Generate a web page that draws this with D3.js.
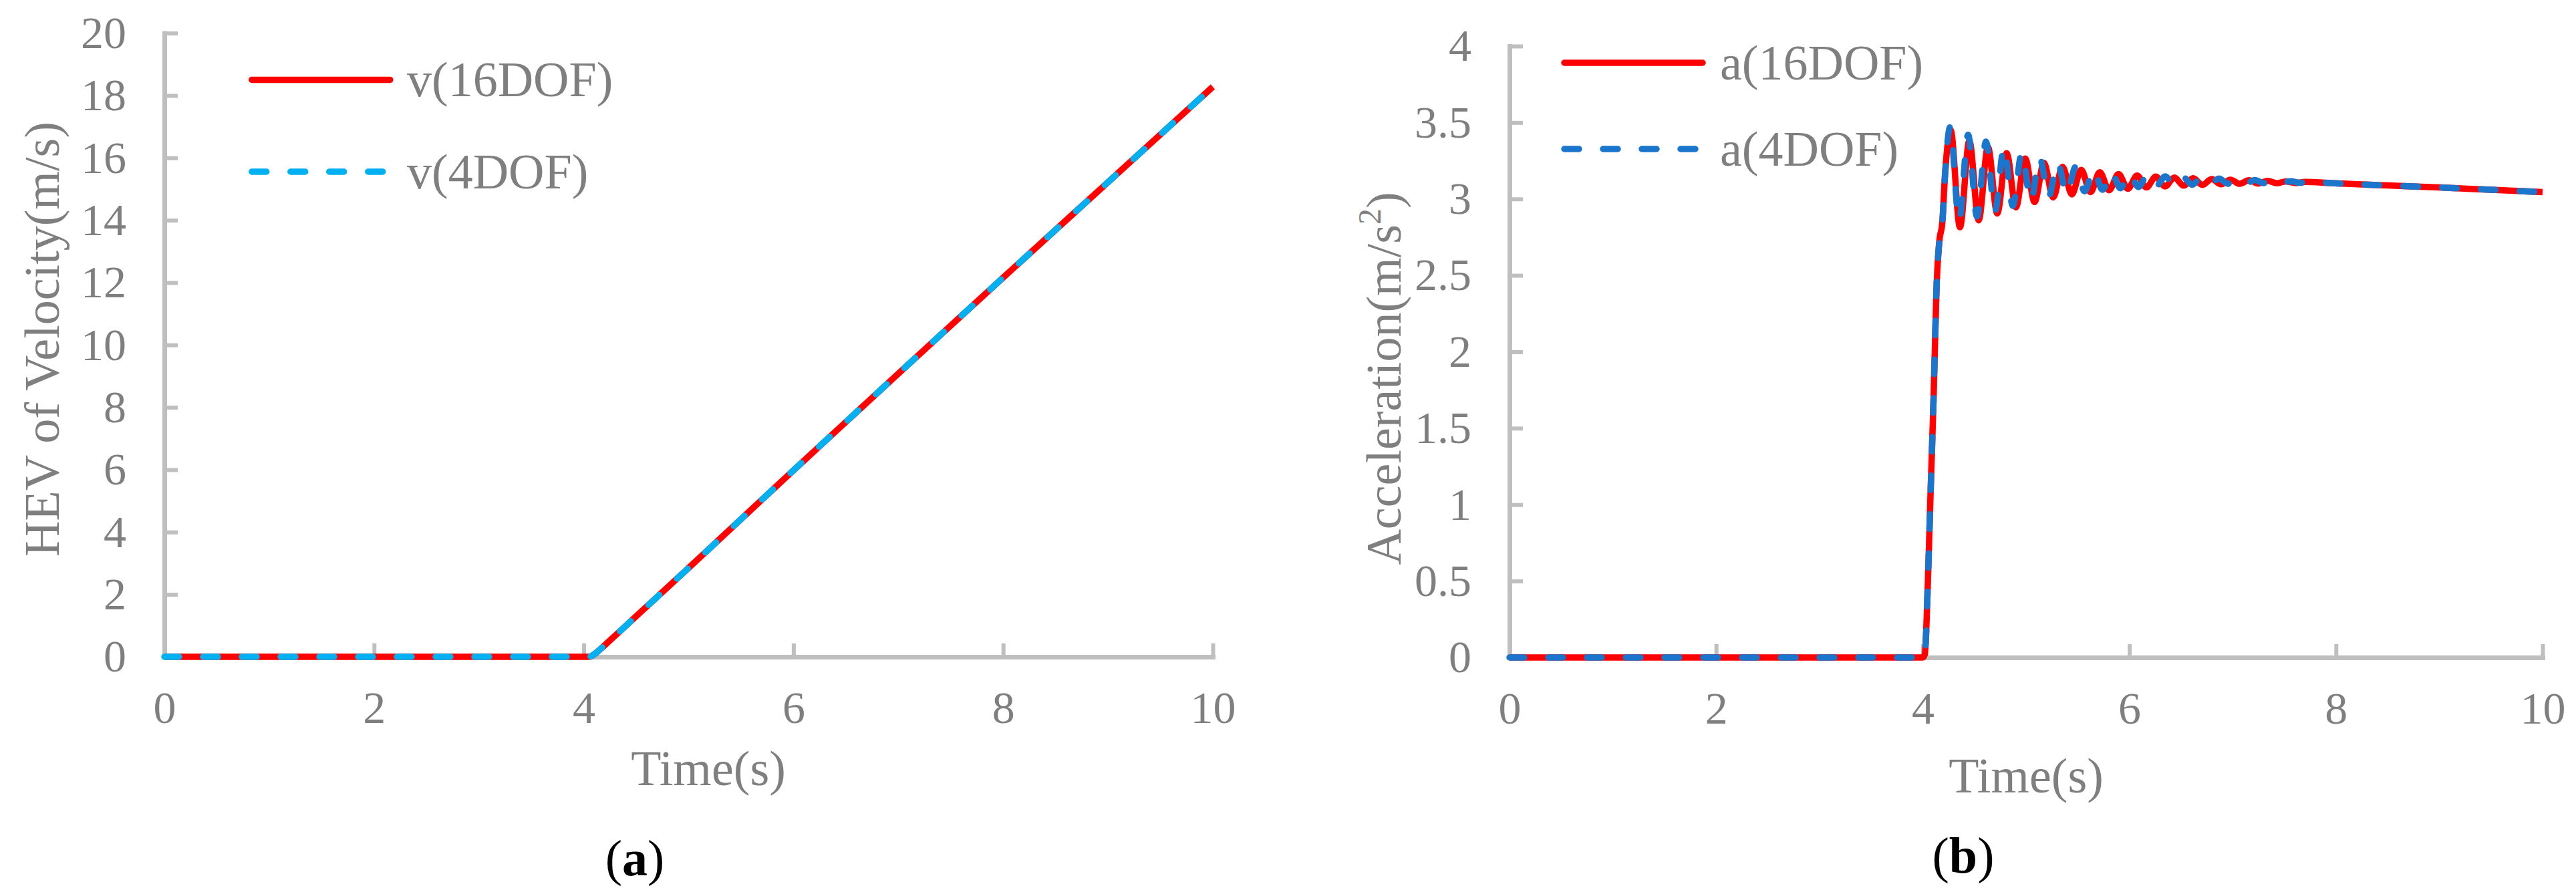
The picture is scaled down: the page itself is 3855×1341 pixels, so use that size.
<!DOCTYPE html>
<html><head><meta charset="utf-8">
<script src="https://cdn.jsdelivr.net/npm/d3@7"></script>
<style>
body{margin:0;background:#fff}
svg{display:block}
text{font-family:"Liberation Serif","Times New Roman",serif}
</style>
</head><body>
<svg id="c" width="3855" height="1341"></svg>
<script>
// ---------------- DATA ----------------
const xTicks = [0, 2, 4, 6, 8, 10];
const xTickLabels = ["0", "2", "4", "6", "8", "10"];
const vTicks = [0, 2, 4, 6, 8, 10, 12, 14, 16, 18, 20];
const vTickLabels = ["0", "2", "4", "6", "8", "10", "12", "14", "16", "18", "20"];
const aTicks = [0, 0.5, 1, 1.5, 2, 2.5, 3, 3.5, 4];
const aTickLabels = ["0", "0.5", "1", "1.5", "2", "2.5", "3", "3.5", "4"];

// (a) velocity
const velTime = [0, 2, 4.0, 4.05, 4.1, 4.15, 4.2, 4.3, 4.5, 5, 6, 7, 8, 9, 10];
const vel16   = [0, 0, 0,   0.0,  0.08, 0.22, 0.37, 0.68, 1.3, 2.85, 5.98, 9.08, 12.16, 15.22, 18.28];
const vel4    = [0, 0, 0,   0.0,  0.08, 0.22, 0.37, 0.68, 1.3, 2.85, 5.98, 9.08, 12.16, 15.22, 18.28];

// (b) acceleration, 16DOF
const accTime16 = [0, 2, 4.0, 4.02, 4.05, 4.075, 4.105, 4.135, 4.16, 4.19, 4.215,
  4.270, 4.360, 4.451, 4.541, 4.631, 4.721, 4.812, 4.902, 4.992, 5.082,
  5.173, 5.263, 5.353, 5.443, 5.534, 5.624, 5.714, 5.804, 5.895, 5.985,
  6.075, 6.165, 6.256, 6.346, 6.436, 6.526, 6.617, 6.707, 6.797, 6.887,
  6.978, 7.068, 7.158, 7.248, 7.339, 7.429, 7.519, 7.609, 7.700, 7.95,
  8.5, 9.0, 9.5, 10];
const acc16 = [0, 0, 0, 0.02, 0.5, 1.06, 1.7, 2.45, 2.72, 2.85, 3.15,
  3.45, 2.815, 3.38, 2.86, 3.34, 2.905, 3.30, 2.945, 3.265, 2.98,
  3.235, 3.01, 3.21, 3.03, 3.19, 3.045, 3.175, 3.057, 3.163, 3.067,
  3.153, 3.075, 3.146, 3.082, 3.14, 3.087, 3.135, 3.092, 3.13, 3.096,
  3.126, 3.099, 3.122, 3.101, 3.118, 3.103, 3.115, 3.104, 3.112, 3.104,
  3.088, 3.075, 3.06, 3.045];

// (b) acceleration, 4DOF
const accTime4 = [0, 2, 4.0, 4.02, 4.05, 4.075, 4.105, 4.135, 4.16, 4.19, 4.215,
  4.265, 4.352, 4.439, 4.525, 4.612, 4.699, 4.786, 4.872, 4.959, 5.046,
  5.133, 5.219, 5.306, 5.393, 5.480, 5.566, 5.653, 5.740, 5.827, 5.913,
  6.000, 6.087, 6.174, 6.260, 6.347, 6.434, 6.521, 6.607, 6.694, 6.781,
  6.868, 6.954, 7.041, 7.128, 7.215, 7.301, 7.388, 7.475, 7.562, 7.648,
  7.735, 7.95, 8.5, 9.0, 9.5, 10];
const acc4 = [0, 0, 0, 0.02, 0.5, 1.06, 1.7, 2.45, 2.72, 2.85, 3.15,
  3.47, 2.86, 3.42, 2.885, 3.375, 2.92, 3.335, 2.955, 3.30, 2.99,
  3.265, 3.015, 3.235, 3.035, 3.21, 3.05, 3.19, 3.06, 3.175, 3.07,
  3.165, 3.078, 3.155, 3.084, 3.148, 3.089, 3.142, 3.093, 3.137, 3.097,
  3.133, 3.10, 3.128, 3.102, 3.124, 3.104, 3.12, 3.105, 3.116, 3.106,
  3.112, 3.104, 3.088, 3.075, 3.06, 3.045];

const legendA = ["v(16DOF)", "v(4DOF)"];
const legendB = ["a(16DOF)", "a(4DOF)"];

// ---------------- STYLE ----------------
const AXIS = "#BFBFBF", TXT = "#7F7F7F", RED = "#FF0000";
const BLUE_A = "#00B0F0", BLUE_B = "#1A75CC";
const LW = 9.5, DASH = "22 36";

const svg = d3.select("#c");
svg.append("rect").attr("width", 3855).attr("height", 1341).attr("fill", "#fff");

function panel(o) {
  const x = d3.scaleLinear().domain([0, 10]).range([o.x0, o.x1]);
  const y = d3.scaleLinear().domain(o.ydom).range([o.y0, o.y1]);
  const g = svg.append("g");

  // x axis
  const gx = g.append("g").attr("transform", `translate(0,${o.y0})`)
    .call(d3.axisBottom(x).tickValues(xTicks).tickFormat((d, i) => xTickLabels[i])
      .tickSize(-20).tickSizeOuter(0).tickPadding(51));
  // y axis
  const gy = g.append("g").attr("transform", `translate(${o.x0},0)`)
    .call(d3.axisLeft(y).tickValues(o.yticks).tickFormat((d, i) => o.ylabels[i])
      .tickSize(-20).tickSizeOuter(0).tickPadding(57));
  [gx, gy].forEach(a => {
    a.attr("font-family", null).attr("font-size", 68);
    a.select(".domain").attr("stroke", AXIS).attr("stroke-width", 7).attr("stroke-linecap", "square");
    a.selectAll(".tick line").attr("stroke", AXIS).attr("stroke-width", 6);
    a.selectAll(".tick text").attr("fill", TXT).style("font-family", '"Liberation Serif","Times New Roman",serif');
  });

  // lines
  const line = (tt) => d3.line().x((d, i) => x(tt[i])).y(d => y(d)).curve(d3.curveMonotoneX);
  g.append("path").datum(o.s1).attr("d", line(o.t1)).attr("fill", "none")
    .attr("stroke", RED).attr("stroke-width", LW).attr("stroke-linejoin", "round");
  g.append("path").datum(o.s2).attr("d", line(o.t2)).attr("fill", "none")
    .attr("stroke", o.blue).attr("stroke-width", LW).attr("stroke-linejoin", "round")
    .attr("stroke-linecap", "round").attr("stroke-dasharray", DASH);

  // legend
  g.append("line").attr("x1", o.lx).attr("x2", o.lx + 207).attr("y1", o.ly1).attr("y2", o.ly1)
    .attr("stroke", RED).attr("stroke-width", LW).attr("stroke-linecap", "round");
  g.append("line").attr("x1", o.lx).attr("x2", o.lx + 196).attr("y1", o.ly2).attr("y2", o.ly2)
    .attr("stroke", o.blue).attr("stroke-width", LW).attr("stroke-linecap", "round")
    .attr("stroke-dasharray", DASH);
  g.append("text").attr("x", o.tx).attr("y", o.ly1 + 24.5).attr("font-size", 74).attr("fill", TXT).text(o.leg[0]);
  g.append("text").attr("x", o.tx).attr("y", o.ly2 + 24.5).attr("font-size", 74).attr("fill", TXT).text(o.leg[1]);

  // axis titles
  g.append("text").attr("x", o.xtx).attr("y", o.xty).attr("text-anchor", "middle")
    .attr("font-size", 74).attr("fill", TXT).text("Time(s)");
  const yt = g.append("text").attr("transform", `translate(${o.ytx},${o.yty}) rotate(-90)`)
    .attr("text-anchor", "middle").attr("font-size", 74).attr("fill", TXT);
  o.ytitle(yt);

  // panel label
  const pl = g.append("text").attr("x", o.plx).attr("y", o.ply).attr("text-anchor", "middle")
    .attr("font-size", 76).attr("fill", "#000");
  pl.append("tspan").text("(");
  pl.append("tspan").attr("font-weight", "bold").text(o.pl);
  pl.append("tspan").text(")");
}

panel({
  x0: 246, x1: 1815, y0: 983, y1: 49.6, ydom: [0, 20],
  yticks: vTicks, ylabels: vTickLabels,
  t1: velTime, s1: vel16, t2: velTime, s2: vel4, blue: BLUE_A,
  lx: 376.8, ly1: 119.4, ly2: 257, tx: 609, leg: legendA,
  xtx: 1060, xty: 1175, ytx: 88, yty: 507.5,
  ytitle: t => t.text("HEV of Velocity(m/s)"),
  plx: 950, ply: 1310, pl: "a"
});

panel({
  x0: 2259, x1: 3805, y0: 984, y1: 69, ydom: [0, 4],
  yticks: aTicks, ylabels: aTickLabels,
  t1: accTime16, s1: acc16, t2: accTime4, s2: acc4, blue: BLUE_B,
  lx: 2341, ly1: 94, ly2: 223, tx: 2574, leg: legendB,
  xtx: 3032, xty: 1186, ytx: 2096, yty: 566.5,
  ytitle: t => {
    t.append("tspan").text("Acceleration(m/s");
    t.append("tspan").attr("font-size", 48).attr("dy", -30).text("2");
    t.append("tspan").attr("dy", 30).text(")");
  },
  plx: 2938, ply: 1306, pl: "b"
});
</script>
</body></html>
